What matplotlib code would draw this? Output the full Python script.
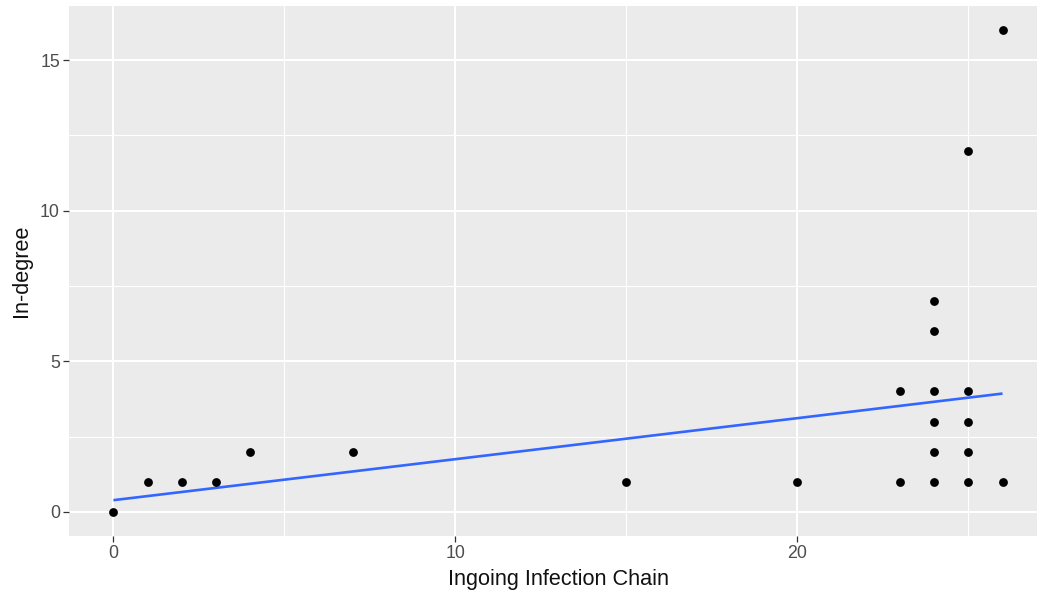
import matplotlib
matplotlib.use("Agg")
import matplotlib.pyplot as plt
import numpy as np

plt.rcParams['font.family'] = ['Liberation Sans', 'DejaVu Sans']

# Data
chain = [0, 1, 2, 3, 4, 7, 15, 20, 23, 23, 24, 24, 24, 24, 24, 24, 25, 25, 25, 25, 25, 26, 26]
indegree = [0, 1, 1, 1, 2, 2, 1, 1, 4, 1, 7, 6, 4, 3, 2, 1, 12, 4, 3, 2, 1, 16, 1]
# Fitted line (geom_smooth, lm) endpoints
fit_x = [0, 26]
fit_y = [0.39, 3.93]

x_ticks = [0, 10, 20]
y_ticks = [0, 5, 10, 15]
x_minor = [5, 15, 25]
y_minor = [2.5, 7.5, 12.5]

fig = plt.figure(figsize=(10.37, 6.0), dpi=100)
ax = fig.add_axes([69 / 1037, (600 - 536) / 600, (1047 - 69) / 1037, (536 - 6) / 600])
ax.set_facecolor("#EBEBEB")

ax.set_xlim(-1.3, 27.3)
ax.set_ylim(-0.8, 16.8)

for v in x_minor:
    ax.axvline(v, color="white", lw=0.8, zorder=0)
for v in y_minor:
    ax.axhline(v, color="white", lw=0.8, zorder=0)
for v in x_ticks:
    ax.axvline(v, color="white", lw=1.5, zorder=0)
for v in y_ticks:
    ax.axhline(v, color="white", lw=1.5, zorder=0)

ax.plot(fit_x, fit_y, color="#3366FF", lw=1.9, zorder=2, solid_capstyle="butt")
ax.scatter(chain, indegree, s=40, color="black", zorder=3, linewidths=0)

ax.set_xticks(x_ticks)
ax.set_yticks(y_ticks)
ax.set_xticklabels([str(t) for t in x_ticks])
ax.set_yticklabels([str(t) for t in y_ticks])
ax.tick_params(axis="both", colors="#333333", labelcolor="#4D4D4D", length=4, width=0.9,
               labelsize=12.8, pad=2.5)
for s in ax.spines.values():
    s.set_visible(False)

ax.set_xlabel("Ingoing Infection Chain", fontsize=15.6, color="#111111", labelpad=5)
ax.set_ylabel("In-degree", fontsize=15.6, color="#111111", labelpad=6)

fig.savefig("out.png", dpi=100, facecolor="white")
